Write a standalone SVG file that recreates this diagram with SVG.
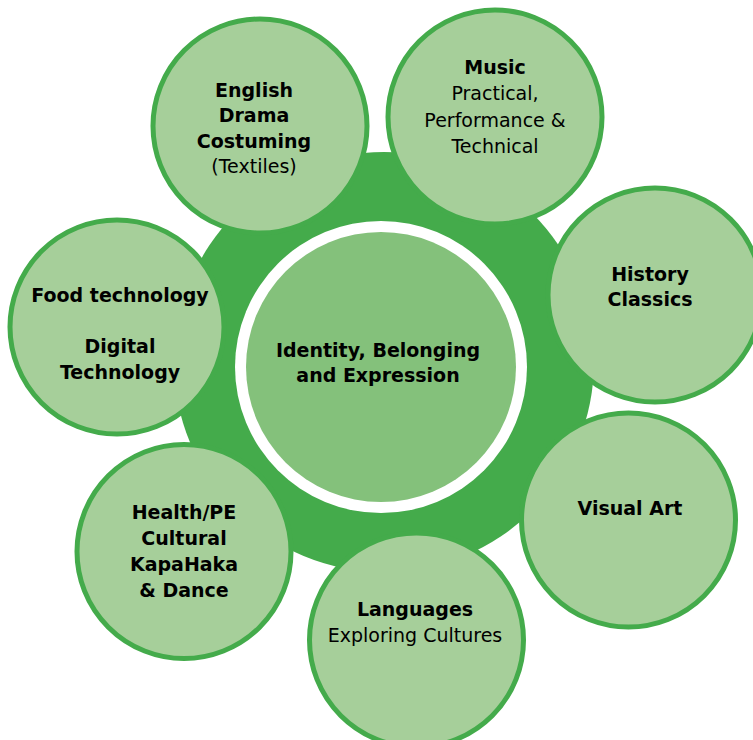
<svg xmlns="http://www.w3.org/2000/svg" width="753" height="740" viewBox="0 0 753 740">
<style>
.bg{fill:#44ab4b}
.ring{fill:#ffffff}
.core{fill:#84c17b}
.sat{fill:#a6cf9a;stroke:#44ab4b;stroke-width:5}
text{font-family:"DejaVu Sans","Verdana",sans-serif;font-size:19px;fill:#000;text-anchor:middle}
.b{font-weight:bold}
</style>
<rect width="753" height="740" fill="#ffffff"/>
<g id="hub">
<circle class="bg" cx="384" cy="362" r="210"/>
<circle class="ring" cx="381" cy="367" r="146"/>
<circle class="core" cx="381" cy="367" r="135"/>
<text class="b" x="378" y="357">Identity, Belonging</text>
<text class="b" x="378" y="382">and Expression</text>
</g>
<g id="connectors"/>
<g id="english">
<circle class="sat" cx="260" cy="126" r="107"/>
<text class="b" x="254" y="97">English</text>
<text class="b" x="254" y="122">Drama</text>
<text class="b" x="254" y="148">Costuming</text>
<text x="254" y="173">(Textiles)</text>
</g>
<g id="music">
<circle class="sat" cx="495" cy="117" r="107"/>
<text class="b" x="495" y="74">Music</text>
<text x="495" y="100">Practical,</text>
<text x="495" y="126.5">Performance &amp;</text>
<text x="495" y="152.5">Technical</text>
</g>
<g id="history">
<circle class="sat" cx="655" cy="295" r="107"/>
<text class="b" x="650" y="281">History</text>
<text class="b" x="650" y="306">Classics</text>
</g>
<g id="visual-art">
<circle class="sat" cx="628.5" cy="520" r="107"/>
<text class="b" x="630" y="515">Visual Art</text>
</g>
<g id="languages">
<circle class="sat" cx="416.5" cy="640" r="107"/>
<text class="b" x="415" y="616">Languages</text>
<text x="415" y="642">Exploring Cultures</text>
</g>
<g id="health">
<circle class="sat" cx="184" cy="551.5" r="107"/>
<text class="b" x="184" y="519">Health/PE</text>
<text class="b" x="184" y="545">Cultural</text>
<text class="b" x="184" y="571">KapaHaka</text>
<text class="b" x="184" y="597">&amp; Dance</text>
</g>
<g id="food">
<circle class="sat" cx="117" cy="327" r="107"/>
<text class="b" x="120" y="302">Food technology</text>
<text class="b" x="120" y="353">Digital</text>
<text class="b" x="120" y="378.5">Technology</text>
</g>
</svg>
